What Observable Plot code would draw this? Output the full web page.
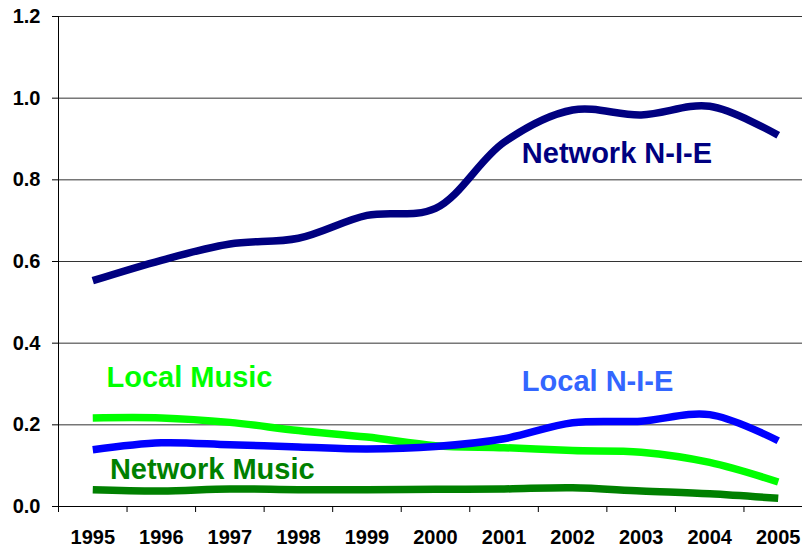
<!DOCTYPE html>
<html><head><meta charset="utf-8">
<script src="https://cdn.jsdelivr.net/npm/d3@7"></script>
<script src="https://cdn.jsdelivr.net/npm/@observablehq/plot@0.6"></script>
<style>
body{margin:0;background:#fff}
svg{font-family:"Liberation Sans",Arial,sans-serif}
svg text{font-weight:bold}
</style>
</head><body><div id="chart"></div>
<script>
const years = [1995,1996,1997,1998,1999,2000,2001,2002,2003,2004,2005];
const networkNIE   = [0.553,0.603,0.643,0.657,0.713,0.730,0.892,0.971,0.959,0.980,0.909];
const localNIE     = [0.139,0.156,0.151,0.146,0.141,0.147,0.166,0.205,0.209,0.225,0.161];
const localMusic   = [0.217,0.217,0.206,0.186,0.170,0.149,0.144,0.137,0.133,0.108,0.060];
const networkMusic = [0.041,0.038,0.043,0.041,0.041,0.042,0.043,0.046,0.038,0.031,0.020];
const yTicks = [0,0.2,0.4,0.6,0.8,1.0,1.2];

const seriesNames  = ["Network Music","Local Music","Local N-I-E","Network N-I-E"];
const seriesValues = [networkMusic, localMusic, localNIE, networkNIE];
const seriesColors = ["#008000","#00FF00","#0000FF","#000080"];
const labelColors  = ["#008000","#00FF00","#3366FF","#000080"];
// label anchor positions (data units: year, value)
const labelX = [1995.25, 1995.20, 2001.26, 2001.26];
const labelY = [0.068, 0.292, 0.282, 0.842];

const rows = seriesNames.flatMap((s, i) => years.map((yr, j) => ({series: s, year: yr, value: seriesValues[i][j]})));
const labels = seriesNames.map((s, i) => ({text: s, x: labelX[i], y: labelY[i], color: labelColors[i]}));
const boundaries = years.map(y => y - 0.5).concat([years[years.length-1] + 0.5]);

const chart = Plot.plot({
  width: 802, height: 550,
  marginLeft: 58, marginRight: 0, marginTop: 16, marginBottom: 44,
  style: {background: "#fff", fontFamily: "'Liberation Sans', Arial, sans-serif", overflow: "visible"},
  x: {type: "linear", domain: [1994.5, 2005.5], range: [58, 812], axis: null},
  y: {domain: [0, 1.2], axis: null},
  color: {domain: seriesNames, range: seriesColors},
  marks: [
    Plot.ruleY(yTicks.filter(d => d > 0), {stroke: "#333", strokeWidth: 1}),
    Plot.ruleX([1994.5], {stroke: "#000", strokeWidth: 1}),
    Plot.ruleY([0], {stroke: "#000", strokeWidth: 1}),
    Plot.axisY(yTicks, {tickSize: 6, tickPadding: 12, tickFormat: d => d.toFixed(1), fontSize: 20, fontWeight: "bold", stroke: "#000"}),
    Plot.axisX(boundaries, {tickSize: 6, tickFormat: () => "", stroke: "#000"}),
    Plot.axisX(years, {tickSize: 0, tickPadding: 23, tickFormat: d => String(d), fontSize: 20, fontWeight: "bold", letterSpacing: "1.4px"}),
    Plot.line(rows, {x: "year", y: "value", z: "series", stroke: "series", strokeWidth: 7.5, curve: "catmull-rom", strokeLinecap: "butt", strokeLinejoin: "round"}),
    Plot.text(labels, {x: "x", y: "y", text: "text", fill: d => d.color, textAnchor: "start", lineAnchor: "bottom", fontSize: 29, fontWeight: "bold", letterSpacing: "0.3px"})
  ]
});
document.getElementById("chart").append(chart);
</script>
</body></html>
